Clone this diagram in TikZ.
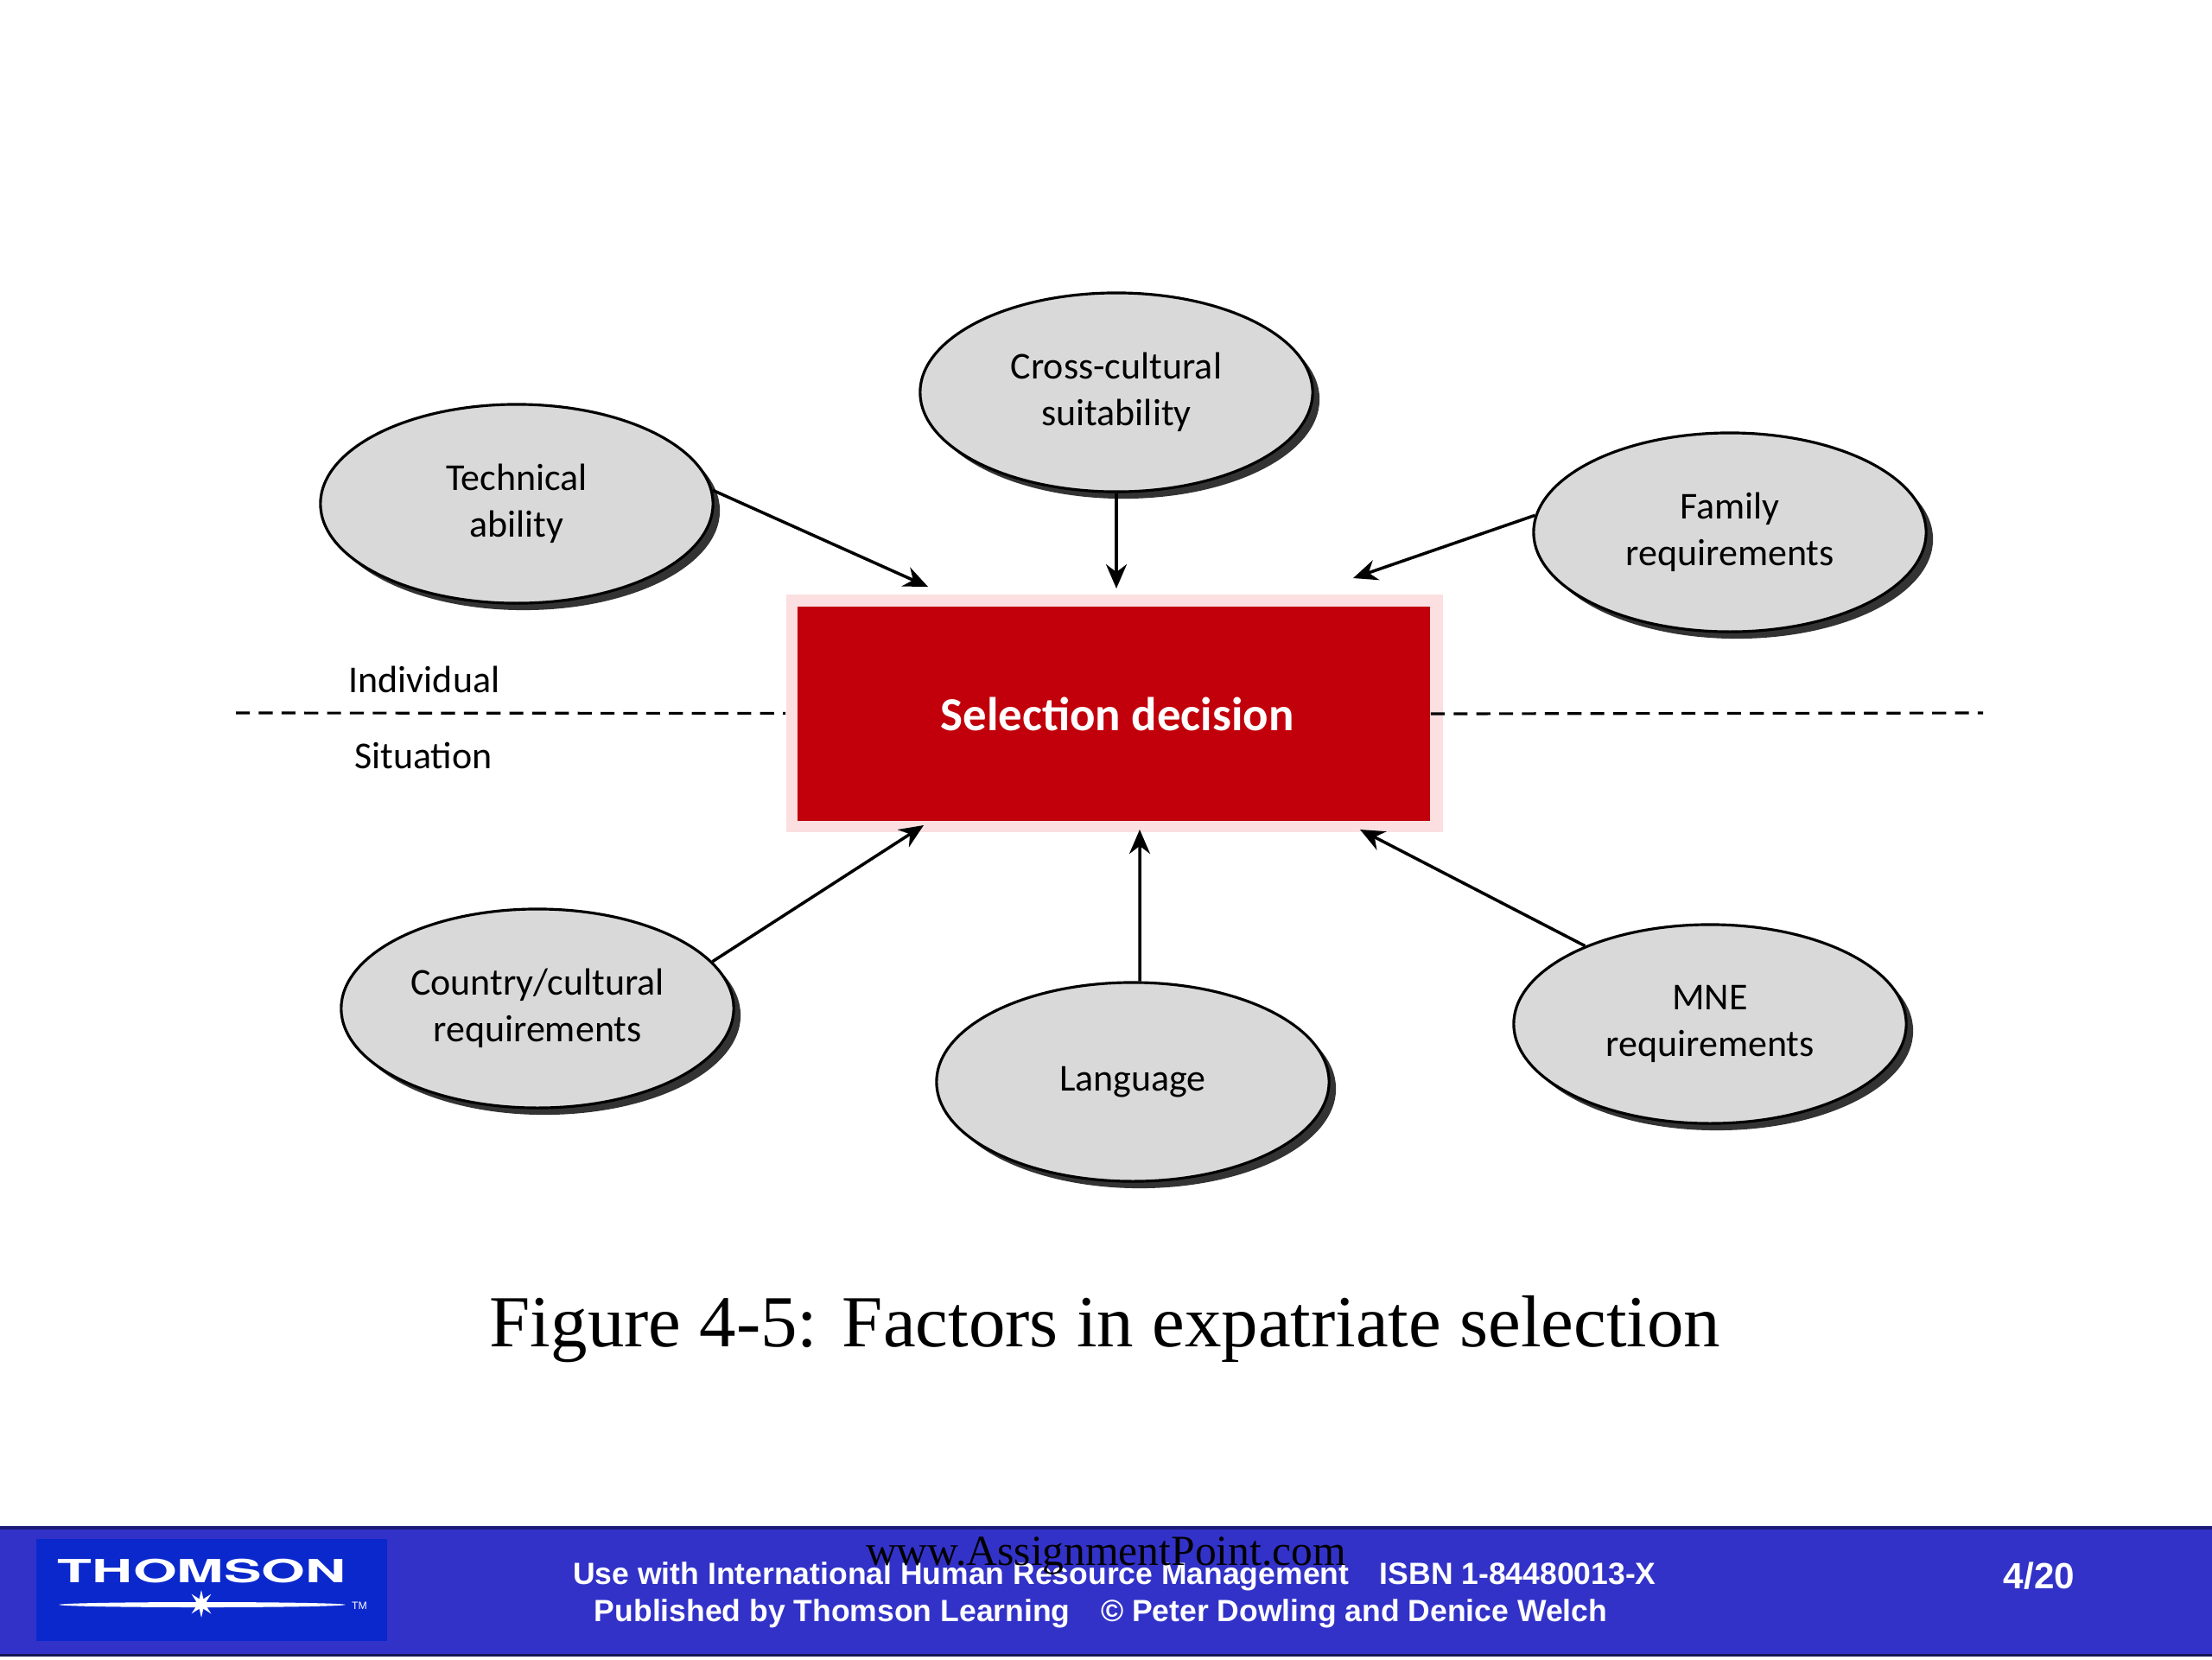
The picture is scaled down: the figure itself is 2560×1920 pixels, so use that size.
\documentclass[tikz,border=0pt]{standalone}
\usepackage{fontspec}
\setmainfont{Liberation Serif}
\newfontfamily\diagfont{Carlito}
\newfontfamily\footfont{Liberation Sans}
\newfontfamily\logofont{TeX Gyre Heros}
\usetikzlibrary{arrows.meta,shapes.geometric,shadows}

\definecolor{factorgray}{HTML}{D9D9D9}
\definecolor{decisionred}{HTML}{C1000B}
\definecolor{decisionpink}{HTML}{FBDFE1}
\definecolor{footblue}{HTML}{3232C8}
\definecolor{footedge}{HTML}{1C1C78}
\definecolor{logoblue}{HTML}{0A28CC}

\tikzset{
    factor/.style={ellipse, draw=black, line width=0.9pt, fill=factorgray,
        minimum width=4.54cm, minimum height=2.3cm, inner sep=0pt, align=center,
        font=\diagfont\fontsize{12.5}{15.4}\selectfont,
        drop shadow={shadow xshift=0.08cm, shadow yshift=-0.08cm, fill=black!80, opacity=1}},
    feed/.style={draw=black, line width=1pt, -{Stealth[length=0.28cm, width=0.24cm]}},
    split/.style={draw=black, line width=0.9pt, dash pattern=on 4.6pt off 2.9pt},
    footline/.style={text=white, font=\footfont\bfseries\fontsize{10.1}{10.1}\selectfont, inner sep=0pt},
    sidelabel/.style={font=\diagfont\fontsize{12.5}{12.5}\selectfont, inner sep=0pt}
}

\begin{document}
\begin{tikzpicture}[x=0.01cm, y=-0.01cm]
    \useasboundingbox (0,0) rectangle (2560,1920);

    % The factors around the decision
    \foreach \nm/\px/\py/\txt in {
        cross/1292/454/{Cross-cultural\\suitability},
        tech/598/583/{Technical\\ability},
        family/2002/616/{Family\\requirements},
        country/622/1167/{Country/cultural\\requirements},
        lang/1311/1252/{Language},
        mne/1979/1185/{MNE\\requirements}}{
        \node[factor] (\nm) at (\px,\py) {\txt};
    }

    % Decision box with its pale border
    \node[fill=decisionpink, minimum width=7.6cm, minimum height=2.75cm, inner sep=0pt] (decisionOuter) at (1290,825.5) {};
    \node[fill=decisionred, minimum width=7.32cm, minimum height=2.48cm, inner sep=0pt, text=white,
        font=\diagfont\bfseries\fontsize{15.6}{15.6}\selectfont] (decision) at (1289,826) {\hspace{0.08cm}Selection decision};

    % Free ends of the arrows
    \coordinate (techEnd) at (1074,679);
    \coordinate (crossEnd) at (1292,681);
    \coordinate (familyEnd) at (1566,669);
    \coordinate (countryEnd) at (1069,955);
    \coordinate (langEnd) at (1319,960);
    \coordinate (mneEnd) at (1574,960);
    \draw[feed] (tech.4) -- (techEnd);
    \draw[feed] (cross.south) -- (crossEnd);
    \draw[feed] (family.175.5) -- (familyEnd);
    \draw[feed] (country.15) -- (countryEnd);
    \draw[feed] (lang.86) -- (langEnd);
    \draw[feed] (mne.148.5) -- (mneEnd);

    % Individual / situation split
    \coordinate (splitLeft) at (273,825);
    \coordinate (splitRight) at (2295,825);
    \draw[split] (splitLeft) -- (decisionOuter.west);
    \draw[split] (decision.east) -- (splitRight);
    \node[sidelabel] (individual) at (491,786) {Individual};
    \node[sidelabel] (situation) at (490,874) {Situation};

    \node[inner sep=0pt, font=\fontsize{24.15}{24.15}\selectfont] (caption) at (1279,1538) {Figure 4-5: Factors in expatriate selection};

    % Footer band
    \fill[footblue] (0,1766) rectangle (2560,1917);
    \fill[footedge] (0,1766) rectangle (2560,1770);
    \fill[footedge!70!black] (0,1914) rectangle (2560,1917);
    \fill[logoblue] (42,1781) rectangle (448,1899);

    % Logo
    \node[inner sep=0pt, text=white, xscale=1.77, font=\logofont\bfseries\fontsize{10.5}{10.5}\selectfont] (logoName) at (234,1818) {THOMSON};
    \node[ellipse, fill=white, minimum width=3.31cm, minimum height=0.06cm, inner sep=0pt] (logoFlare) at (234,1857) {};
    \node[star, star points=8, star point ratio=2.6, fill=white, minimum size=0.32cm, inner sep=0pt] (logoStar) at (233,1856) {};
    \node[inner sep=0pt, text=white, font=\footfont\fontsize{3.5}{3.5}\selectfont] (logoTm) at (416,1858) {TM};

    \node[footline] (useLine) at (1290,1824) {Use with International Human Resource Management\quad ISBN 1-84480013-X};
    \node[footline] (pubLine) at (1274,1867) {Published by Thomson Learning\quad © Peter Dowling and Denice Welch};
    \node[footline, font=\footfont\bfseries\fontsize{12}{12}\selectfont] (pageNum) at (2360,1824) {4/20};
    \node[inner sep=0pt, text=black, font=\fontsize{14.1}{14.1}\selectfont] (webLine) at (1280,1800) {www.AssignmentPoint.com};
\end{tikzpicture}
\end{document}
